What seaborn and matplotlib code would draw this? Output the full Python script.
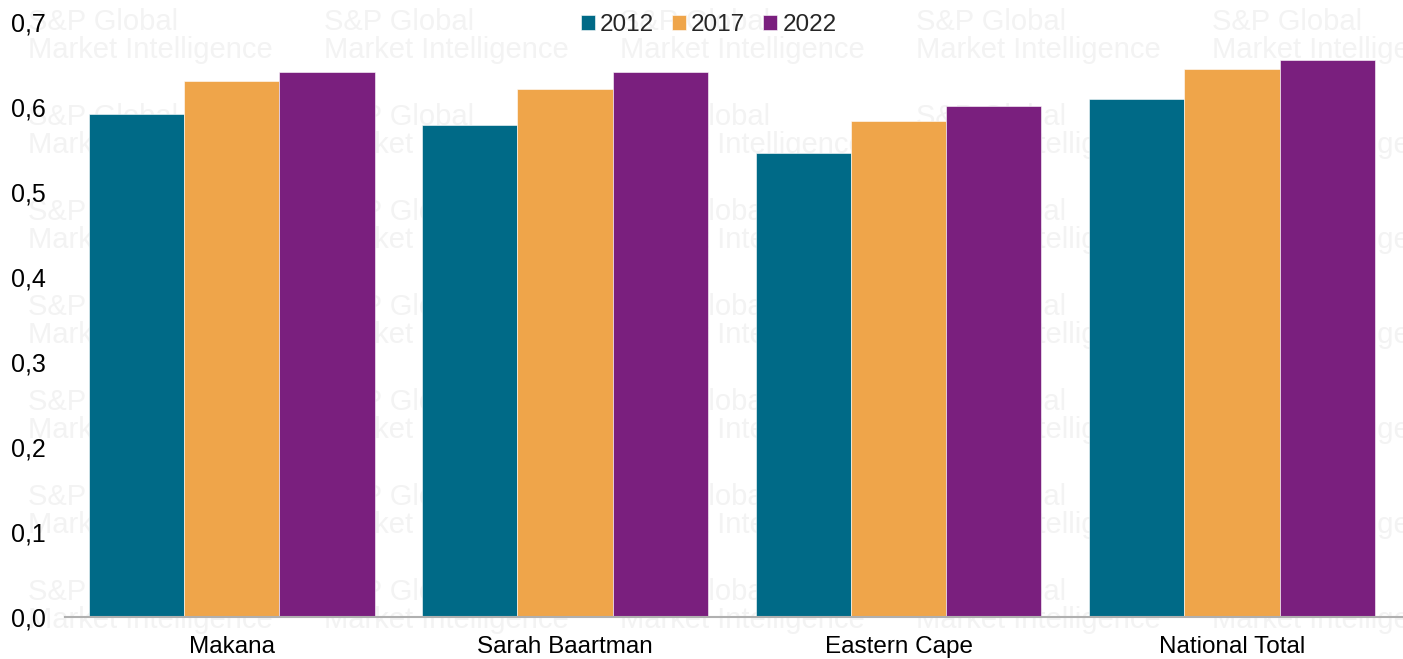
import matplotlib
matplotlib.use("Agg")
import matplotlib.pyplot as plt
from matplotlib.ticker import FuncFormatter, MultipleLocator
import seaborn as sns
import pandas as pd

regions = ["Makana", "Sarah Baartman", "Eastern Cape", "National Total"]
years = ["2012", "2017", "2022"]
values_2012 = [0.592, 0.579, 0.546, 0.609]
values_2017 = [0.631, 0.621, 0.584, 0.645]
values_2022 = [0.641, 0.641, 0.601, 0.655]
colors = ["#006A87", "#EFA54A", "#7A1F7E"]
watermark = "S&P Global\nMarket Intelligence"

df = pd.DataFrame({
    "region": regions * 3,
    "year": [y for y in years for _ in regions],
    "value": values_2012 + values_2017 + values_2022,
})

sns.set_theme(style="white")
plt.rcParams["font.family"] = ["Liberation Sans", "DejaVu Sans"]

fig = plt.figure(figsize=(14.03, 6.59), dpi=100)

# faint tiled watermark sitting behind the chart
for col in range(5):
    for row in range(7):
        fx = (28 + col * 296) / 1403
        fy = 1 - (8 + row * 95) / 659
        fig.text(fx, fy, watermark, fontsize=21, color="#f3f3f3",
                 va="top", ha="left", linespacing=1.0, zorder=-5)

ax = fig.add_axes([0.0463, 0.0637, 0.9537, 0.9029])
ax.set_zorder(1)
ax.patch.set_alpha(0)

sns.barplot(data=df, x="region", y="value", hue="year", order=regions,
            hue_order=years, palette=colors, width=0.857, saturation=1,
            edgecolor="white", linewidth=0.4, ax=ax)

ax.set_ylim(0, 0.7)
ax.set_xlim(-0.5, 3.513)
ax.yaxis.set_major_locator(MultipleLocator(0.1))
ax.yaxis.set_major_formatter(FuncFormatter(lambda v, p: f"{v:.1f}".replace(".", ",")))
ax.set_xlabel("")
ax.set_ylabel("")
ax.tick_params(axis="both", length=0, labelsize=17.5, colors="black")
ax.tick_params(axis="y", labelsize=18, pad=14)
ax.tick_params(axis="x", pad=14)
for s in ["top", "right", "left"]:
    ax.spines[s].set_visible(False)
ax.spines["bottom"].set_color("#b0b0b0")
ax.spines["bottom"].set_linewidth(1.5)
ax.grid(False)

ax.legend(loc="upper center", bbox_to_anchor=(0.481, 1.05), ncol=3,
          frameon=False, fontsize=17.5, handlelength=0.58, handleheight=0.58,
          handletextpad=0.2, columnspacing=0.75)

fig.savefig("out.png", dpi=100)
